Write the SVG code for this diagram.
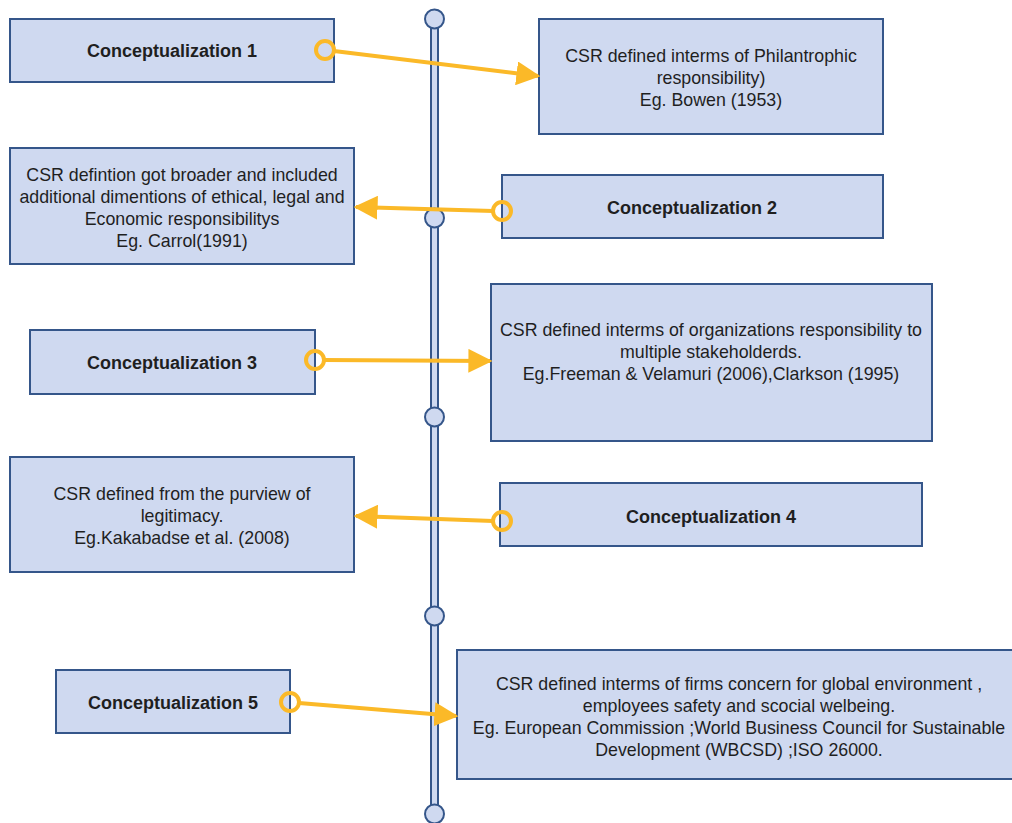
<svg xmlns="http://www.w3.org/2000/svg" width="1012" height="823" viewBox="0 0 1012 823">
  <defs>
    <style>
      .box { fill: #cfd9f0; stroke: #35568a; stroke-width: 2; }
      .title { font-family: "Liberation Sans", Arial, sans-serif; font-size: 18px; font-weight: bold; fill: #1f1f1f; text-anchor: middle; }
      .body { font-family: "Liberation Sans", Arial, sans-serif; font-size: 17.8px; fill: #1f1f1f; text-anchor: middle; }
      .link { fill: none; stroke: #fbb928; stroke-width: 4; }
      .start { fill: none; stroke: #fbb928; stroke-width: 4; }
      .axis { fill: #cfd9f0; stroke: #35568a; stroke-width: 2; }
    </style>
    <marker id="head" viewBox="0 0 10 10" refX="9" refY="5" markerWidth="6" markerHeight="6" markerUnits="strokeWidth" orient="auto">
      <path d="M0,0 L10,5 L0,10 z" fill="#fbb928"/>
    </marker>
  </defs>
  <rect width="1012" height="823" fill="#ffffff"/>

  <!-- timeline axis -->
  <g id="timeline">
    <rect class="axis" x="431" y="20" width="7" height="795"/>
    <circle class="axis" cx="434.5" cy="19" r="9.5"/>
    <circle class="axis" cx="434.5" cy="218" r="9.5"/>
    <circle class="axis" cx="434.5" cy="417" r="9.5"/>
    <circle class="axis" cx="434.5" cy="616" r="9.5"/>
    <circle class="axis" cx="434.5" cy="814" r="9.5"/>
  </g>

  <g id="c1">
    <rect class="box" x="10" y="19" width="324" height="63"/>
    <text class="title" x="172" y="57">Conceptualization 1</text>
  </g>
  <g id="d1">
    <rect class="box" x="539" y="19" width="344" height="115"/>
    <text class="body" x="711" y="62">CSR defined interms of Philantrophic</text>
    <text class="body" x="711" y="84">responsibility)</text>
    <text class="body" x="711" y="106">Eg. Bowen (1953)</text>
  </g>

  <g id="d2">
    <rect class="box" x="10" y="148" width="344" height="116"/>
    <text class="body" x="182" y="181">CSR defintion got broader and included</text>
    <text class="body" x="182" y="203">additional dimentions of ethical, legal and</text>
    <text class="body" x="182" y="225">Economic responsibilitys</text>
    <text class="body" x="182" y="247">Eg. Carrol(1991)</text>
  </g>
  <g id="c2">
    <rect class="box" x="502" y="175" width="381" height="63"/>
    <text class="title" x="692" y="214">Conceptualization 2</text>
  </g>

  <g id="c3">
    <rect class="box" x="30" y="330" width="285" height="64"/>
    <text class="title" x="172" y="369">Conceptualization 3</text>
  </g>
  <g id="d3">
    <rect class="box" x="491" y="284" width="441" height="157"/>
    <text class="body" x="711" y="336">CSR defined interms of organizations responsibility to</text>
    <text class="body" x="711" y="358">multiple stakeholderds.</text>
    <text class="body" x="711" y="380">Eg.Freeman &amp; Velamuri (2006),Clarkson (1995)</text>
  </g>

  <g id="d4">
    <rect class="box" x="10" y="457" width="344" height="115"/>
    <text class="body" x="182" y="500">CSR defined from the purview of</text>
    <text class="body" x="182" y="522">legitimacy.</text>
    <text class="body" x="182" y="544">Eg.Kakabadse et al. (2008)</text>
  </g>
  <g id="c4">
    <rect class="box" x="500" y="483" width="422" height="63"/>
    <text class="title" x="711" y="523">Conceptualization 4</text>
  </g>

  <g id="c5">
    <rect class="box" x="56" y="670" width="234" height="63"/>
    <text class="title" x="173" y="709">Conceptualization 5</text>
  </g>
  <g id="d5">
    <rect class="box" x="457" y="650" width="556" height="129"/>
    <text class="body" x="739" y="690">CSR defined interms of firms concern for global environment ,</text>
    <text class="body" x="739" y="712">employees safety and scocial welbeing.</text>
    <text class="body" x="739" y="734">Eg. European Commission ;World Business Council for Sustainable</text>
    <text class="body" x="739" y="756">Development (WBCSD) ;ISO 26000.</text>
  </g>

  <!-- connectors -->
  <g id="connectors">
    <line class="link" x1="334" y1="51" x2="538" y2="76" marker-end="url(#head)"/>
    <circle class="start" cx="325" cy="50" r="9"/>
    <line class="link" x1="493" y1="211" x2="356" y2="207" marker-end="url(#head)"/>
    <circle class="start" cx="502" cy="211" r="9"/>
    <line class="link" x1="324" y1="360" x2="490" y2="361" marker-end="url(#head)"/>
    <circle class="start" cx="315" cy="360" r="9"/>
    <line class="link" x1="493" y1="521" x2="356" y2="516" marker-end="url(#head)"/>
    <circle class="start" cx="502" cy="521" r="9"/>
    <line class="link" x1="299" y1="703" x2="456" y2="716" marker-end="url(#head)"/>
    <circle class="start" cx="290" cy="702" r="9"/>
  </g>
</svg>
